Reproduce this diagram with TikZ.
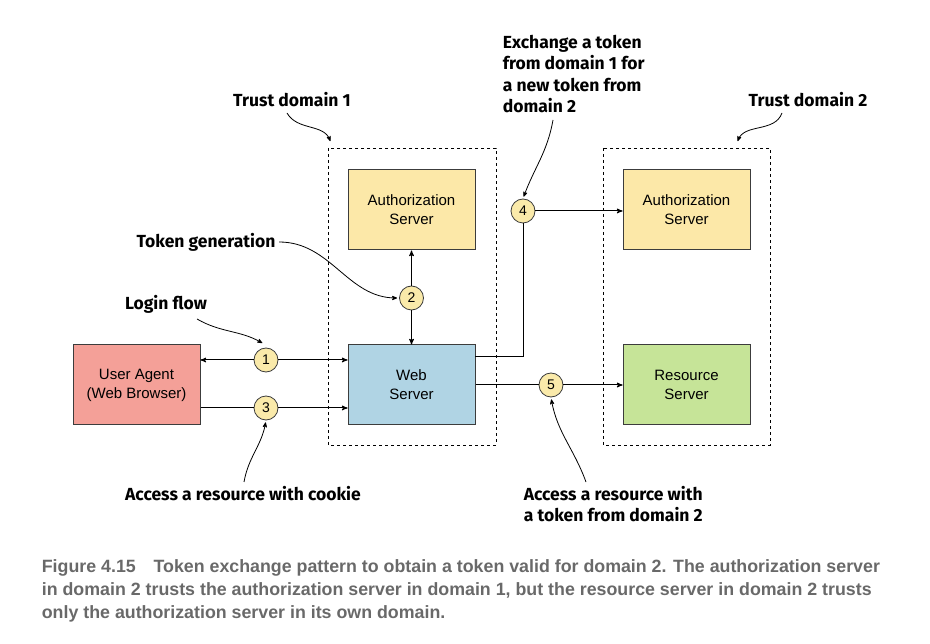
\documentclass[tikz,border=0pt]{standalone}
\usepackage{fontspec}
\setmainfont{Liberation Sans}
\newfontfamily\notefont{Fira Sans}
\newfontfamily\captionfont{Liberation Sans}
\usepackage{tikz}
\usetikzlibrary{arrows, shapes, positioning}

\definecolor{authfill}{RGB}{252,232,168}
\definecolor{webfill}{RGB}{176,212,228}
\definecolor{resfill}{RGB}{198,228,152}
\definecolor{uafill}{RGB}{244,160,152}
\definecolor{stepfill}{RGB}{250,234,170}
\definecolor{boxline}{RGB}{60,60,60}
\definecolor{capgray}{RGB}{105,105,105}

\tikzset{
	server/.style={draw=boxline, line width=1pt, minimum width=127pt, minimum height=80pt, align=center, font=\fontsize{15}{19}\selectfont},
	stepnum/.style={circle, draw=boxline, line width=0.8pt, fill=stepfill, minimum size=24pt, inner sep=0pt, font=\fontsize{14}{14}\selectfont},
	trustbox/.style={draw=black, dashed, line width=0.7pt},
	note/.style={font=\notefont\bfseries\fontsize{17.5}{21.5}\selectfont, align=left},
	pointer/.style={->, line width=0.8pt, shorten >=2pt}
}

\begin{document}
\begin{tikzpicture}[x=1pt,y=-1pt,>=stealth',line width=1pt]
		\useasboundingbox (0,0) rectangle (930,644);

		% trust domains
		\draw[trustbox] (328,148) rectangle (496,445);
		\draw[trustbox] (603,148) rectangle (770,445);

		% servers
		\node[server, fill=authfill] (as1) at (411.5,210) {Authorization\\Server};
		\node[server, fill=authfill] (as2) at (686.5,210) {Authorization\\Server};
		\node[server, fill=webfill]  (ws)  at (411.5,385) {Web\\Server};
		\node[server, fill=resfill]  (rs)  at (686.5,385) {Resource\\Server};
		\node[server, fill=uafill]   (ua)  at (136.5,385) {User Agent\\(Web Browser)};

		% steps
		\node[stepnum] (s1) at (266,360) {1};
		\node[stepnum] (s2) at (411.5,298) {2};
		\node[stepnum] (s3) at (266,408) {3};
		\node[stepnum] (s4) at (523,211) {4};
		\node[stepnum] (s5) at (551,385) {5};
		\coordinate (ws4) at (475,357);

		\draw[->] (s1) -- (s1 -| ua.east);
		\draw[->] (s1) -- (s1 -| ws.west);
		\draw (s3 -| ua.east) -- (s3);
		\draw[->] (s3) -- (s3 -| ws.west);
		\draw[->] (s2) -- (as1);
		\draw[->] (s2) -- (ws);
		\draw (ws4) -| (s4);
		\draw[->] (s4) -- (s4 -| as2.west);
		\draw (ws.east) -- (s5);
		\draw[->] (s5) -- (rs);

		% notes
		\node[note] (td1) at (292,100) {Trust domain 1};
		\node[note] (td2) at (808,100) {Trust domain 2};
		\node[note, anchor=north west] (xch) at (499,31) {Exchange a token\\from domain 1 for\\a new token from\\domain 2};
		\node[note] (gen) at (206,242) {Token generation};
		\node[note] (login) at (166,304) {Login flow};
		\node[note] (cookie) at (243,494) {Access a resource with cookie};
		\node[note, anchor=north west] (tok) at (520,482) {Access a resource with\\a token from domain 2};

		\draw[pointer] (287,113) to[out=-60, in=110] (331,143);
		\draw[pointer] (782,113) to[out=-110, in=70] (737,143);
		\draw[pointer] (553,120) to[out=-100, in=70] (s4.north);
		\draw[pointer] (gen.east) to[out=0, in=180] (s2.west);
		\draw[pointer] (197,319) to[out=-30, in=150] (264,344);
		\draw[pointer] (244,482) to[out=80, in=-100] (s3.south);
		\draw[pointer] (586,482) to[out=110, in=-80] (s5.south);

		% caption
		\node[anchor=north west, align=left, text=capgray, font=\captionfont\bfseries\fontsize{17.8}{23}\selectfont] (cap) at (38,556)
			{Figure 4.15\hspace{1em}Token exchange pattern to obtain a token valid for domain 2. The authorization server\\
			in domain 2 trusts the authorization server in domain 1, but the resource server in domain 2 trusts\\
			only the authorization server in its own domain.};
	\end{tikzpicture}
\end{document}
